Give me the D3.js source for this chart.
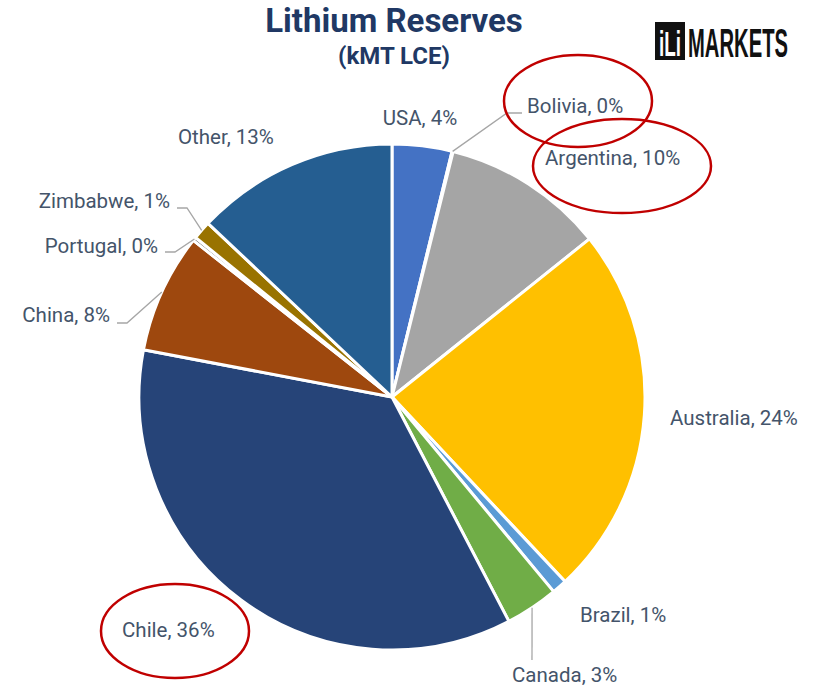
<!DOCTYPE html>
<html>
<head>
<meta charset="utf-8">
<script src="https://cdn.jsdelivr.net/npm/d3@7"></script>
<style>
  html, body { margin: 0; padding: 0; background: #fff; }
  svg { display: block; }
</style>
</head>
<body>
<div id="chart"></div>
<script>
// lithium reserves by country, kMT LCE (pie order clockwise from 12 o'clock)
var countries = ['USA', 'Bolivia', 'Argentina', 'Australia', 'Brazil', 'Canada', 'Chile', 'China', 'Portugal', 'Zimbabwe', 'Other'];
var reserves = [5300, 100, 14400, 33000, 1330, 4700, 49500, 10600, 320, 1650, 18000];
var sliceColors = ['#4472C4', '#ED7D31', '#A5A5A5', '#FFC000', '#5B9BD5', '#70AD47', '#264478', '#9E480E', '#636363', '#997300', '#255E91'];
var circled = ['Bolivia', 'Argentina', 'Chile'];

var width = 828, height = 688;
var cx = 392, cy = 397, radius = 253;

// where excel put each data label (x, y = vertical centre), plus leader line bends
var labelLayout = {
  USA:       { x: 420, y: 118, anchor: 'middle' },
  Bolivia:   { x: 527, y: 106, anchor: 'start', leader: [[507, 113], [522, 113]] },
  Argentina: { x: 545, y: 158, anchor: 'start' },
  Australia: { x: 670, y: 418, anchor: 'start' },
  Brazil:    { x: 580, y: 615, anchor: 'start' },
  Canada:    { x: 512, y: 675, anchor: 'start', leader: [[532, 660]] },
  Chile:     { x: 122, y: 630, anchor: 'start' },
  China:     { x: 110, y: 315, anchor: 'end', leader: [[127, 323], [117, 323]] },
  Portugal:  { x: 158, y: 246, anchor: 'end', leader: [[175, 252], [165, 252]] },
  Zimbabwe:  { x: 170, y: 201, anchor: 'end', leader: [[187, 208], [177, 208]] },
  Other:     { x: 178, y: 137, anchor: 'start' }
};
// red hand-drawn rings
var ringLayout = {
  Bolivia:   { cx: 578, cy: 101, rx: 74, ry: 46 },
  Argentina: { cx: 622, cy: 166, rx: 89, ry: 47 },
  Chile:     { cx: 175, cy: 631, rx: 74, ry: 47 }
};

var total = d3.sum(reserves);
var rows = countries.map(function(c, i) {
  return { name: c, value: reserves[i], pct: Math.round(reserves[i] / total * 100) };
});

var color = d3.scaleOrdinal().domain(countries).range(sliceColors);

var svg = d3.select('#chart').append('svg')
  .attr('width', width)
  .attr('height', height);

// title
svg.append('text')
  .attr('x', 394).attr('y', 32)
  .attr('text-anchor', 'middle')
  .attr('font-family', 'Roboto, sans-serif')
  .attr('font-weight', 'bold')
  .attr('font-size', 33)
  .attr('fill', '#203864')
  .text('Lithium Reserves');
svg.append('text')
  .attr('x', 394).attr('y', 64)
  .attr('text-anchor', 'middle')
  .attr('font-family', 'Roboto, sans-serif')
  .attr('font-weight', 'bold')
  .attr('font-size', 24)
  .attr('fill', '#203864')
  .text('(kMT LCE)');

// logo - squeeze the text horizontally to fit the box widths
function squeezed(parent, str, x, y, size, w, fill) {
  var t = parent.append('text')
    .attr('font-family', '"Liberation Sans Narrow", "Liberation Sans", sans-serif')
    .attr('font-weight', 'bold')
    .attr('font-size', size)
    .attr('fill', fill)
    .text(str);
  var natural = t.node().getComputedTextLength();
  t.attr('transform', 'translate(' + x + ',' + y + ') scale(' + (w / natural) + ',1)');
  return t;
}
var logo = svg.append('g');
logo.append('rect')
  .attr('x', 655).attr('y', 22).attr('width', 30).attr('height', 38)
  .attr('fill', '#111');
squeezed(logo, 'iLi', 659, 56, 36, 22, '#fff');
squeezed(logo, 'MARKETS', 688, 57, 40, 100, '#111');

// pie
var pie = d3.pie().value(function(d) { return d.value; }).sort(null);
var arc = d3.arc().innerRadius(0).outerRadius(radius);
var arcs = pie(rows);

var g = svg.append('g').attr('transform', 'translate(' + cx + ',' + cy + ')');
g.selectAll('path')
  .data(arcs)
  .enter()
  .append('path')
  .attr('d', arc)
  .attr('fill', function(d) { return color(d.data.name); })
  .attr('stroke', '#fff')
  .attr('stroke-width', 3)
  .attr('stroke-linejoin', 'round');

// leader lines start on the rim at the slice mid angle
arcs.forEach(function(d) {
  var lay = labelLayout[d.data.name];
  if (!lay.leader) return;
  var mid = (d.startAngle + d.endAngle) / 2;
  var start = [cx + radius * Math.sin(mid), cy - radius * Math.cos(mid)];
  svg.append('path')
    .attr('d', d3.line()([start].concat(lay.leader)))
    .attr('fill', 'none')
    .attr('stroke', '#A6A6A6')
    .attr('stroke-width', 1.3);
});

// data labels
svg.selectAll('text.lbl')
  .data(arcs)
  .enter()
  .append('text')
  .attr('class', 'lbl')
  .attr('x', function(d) { return labelLayout[d.data.name].x; })
  .attr('y', function(d) { return labelLayout[d.data.name].y; })
  .attr('dy', '0.35em')
  .attr('text-anchor', function(d) { return labelLayout[d.data.name].anchor; })
  .attr('font-family', 'Roboto, sans-serif')
  .attr('font-size', 20.5)
  .attr('fill', '#44546A')
  .text(function(d) { return d.data.name + ', ' + d.data.pct + '%'; });

// red rings around the highlighted countries
circled.forEach(function(name) {
  var r = ringLayout[name];
  svg.append('ellipse')
    .attr('cx', r.cx).attr('cy', r.cy)
    .attr('rx', r.rx).attr('ry', r.ry)
    .attr('fill', 'none')
    .attr('stroke', '#C00000')
    .attr('stroke-width', 2.5);
});
</script>
</body>
</html>
